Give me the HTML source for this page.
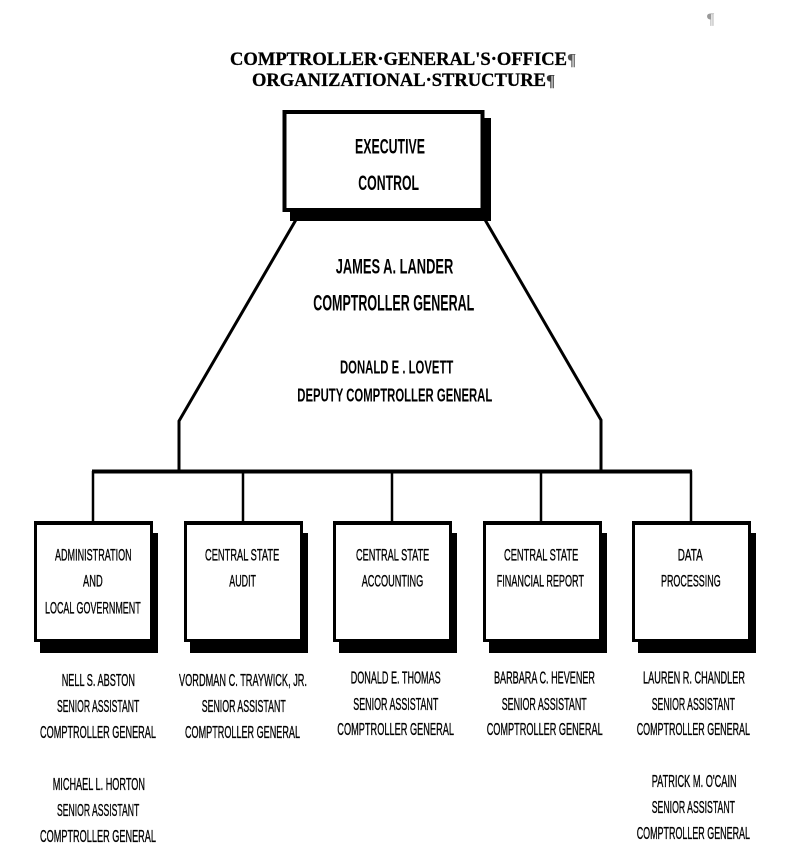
<!DOCTYPE html>
<html>
<head>
<meta charset="utf-8">
<style>
  html, body { margin: 0; padding: 0; background: #fff; }
  svg { display: block; }
  .t { font-family: "Liberation Sans", Arial, sans-serif; fill: #000; }
  .s { font-family: "Liberation Serif", "Times New Roman", serif; font-weight: bold; fill: #000; }
</style>
</head>
<body>
<svg width="796" height="859" viewBox="0 0 796 859" xmlns="http://www.w3.org/2000/svg">
  <rect x="0" y="0" width="796" height="859" fill="#fff"/>

  <!-- top pilcrow -->
  <text x="707" y="24" font-family="Liberation Serif, serif" font-size="16" fill="#999">¶</text>

  <!-- title -->
  <text class="s" x="230" y="65" font-size="18.5" stroke="#000" stroke-width="0.3" textLength="337" lengthAdjust="spacingAndGlyphs">COMPTROLLER·GENERAL'S·OFFICE</text>
  <text x="567" y="65" font-family="Liberation Serif, serif" font-size="17" fill="#555" font-weight="bold">¶</text>
  <text class="s" x="252" y="86" font-size="18.5" stroke="#000" stroke-width="0.3" textLength="294" lengthAdjust="spacingAndGlyphs">ORGANIZATIONAL·STRUCTURE</text>
  <text x="546" y="86" font-family="Liberation Serif, serif" font-size="17" fill="#333" font-weight="bold">¶</text>

  <!-- connectors -->
  <g stroke="#000" fill="none" stroke-linejoin="miter">
    <polyline points="297,218 179,421 179,472" stroke-width="3"/>
    <polyline points="484,218 601,420 601,472" stroke-width="3"/>
    <line x1="92" y1="471.5" x2="692" y2="471.5" stroke-width="4"/>
    <line x1="93" y1="471" x2="93" y2="522" stroke-width="2.5"/>
    <line x1="243" y1="471" x2="243" y2="522" stroke-width="2.5"/>
    <line x1="392" y1="471" x2="392" y2="522" stroke-width="2.5"/>
    <line x1="541" y1="471" x2="541" y2="522" stroke-width="2.5"/>
    <line x1="691" y1="471" x2="691" y2="522" stroke-width="2.5"/>
  </g>

  <!-- executive box -->
  <rect x="290" y="118" width="201" height="103" fill="#000"/>
  <rect x="284.5" y="112" width="198" height="98" fill="#fff" stroke="#000" stroke-width="4"/>
  <text class="t" x="355" y="153.3" font-size="21.5" font-weight="bold" textLength="70" lengthAdjust="spacingAndGlyphs">EXECUTIVE</text>
  <text class="t" x="358.3" y="190" font-size="21.5" font-weight="bold" textLength="60.7" lengthAdjust="spacingAndGlyphs">CONTROL</text>

  <!-- center text -->
  <text class="t" x="335.7" y="273.3" font-size="21.5" font-weight="bold" textLength="117.6" lengthAdjust="spacingAndGlyphs">JAMES A. LANDER</text>
  <text class="t" x="313.3" y="310.7" font-size="22" font-weight="bold" textLength="161" lengthAdjust="spacingAndGlyphs">COMPTROLLER GENERAL</text>
  <text class="t" x="340" y="373.3" font-size="18.5" font-weight="bold" textLength="113.3" lengthAdjust="spacingAndGlyphs">DONALD E . LOVETT</text>
  <text class="t" x="297.3" y="401.7" font-size="18.5" font-weight="bold" textLength="195" lengthAdjust="spacingAndGlyphs">DEPUTY COMPTROLLER GENERAL</text>

  <!-- department boxes: shadows -->
  <g fill="#000">
    <rect x="40" y="533" width="118" height="120"/>
    <rect x="190" y="533" width="118" height="120"/>
    <rect x="339" y="533" width="118" height="120"/>
    <rect x="489" y="533" width="118" height="120"/>
    <rect x="638" y="533" width="118" height="120"/>
  </g>
  <g fill="#fff" stroke="#000" stroke-width="3">
    <rect x="35.5" y="522.5" width="116" height="118"/>
    <rect x="185.5" y="522.5" width="116" height="118"/>
    <rect x="334.5" y="522.5" width="116" height="118"/>
    <rect x="484.5" y="522.5" width="116" height="118"/>
    <rect x="633.5" y="522.5" width="116" height="118"/>
  </g>
  <g fill="#000">
    <rect x="34" y="521" width="119" height="4"/>
    <rect x="184" y="521" width="119" height="4"/>
    <rect x="333" y="521" width="119" height="4"/>
    <rect x="483" y="521" width="119" height="4"/>
    <rect x="632" y="521" width="119" height="4"/>
  </g>

  <!-- box labels -->
  <g class="t" font-size="17" stroke="#000" stroke-width="0.35">
    <text x="55" y="560.7" textLength="76.7" lengthAdjust="spacingAndGlyphs">ADMINISTRATION</text>
    <text x="83" y="586.7" textLength="19.7" lengthAdjust="spacingAndGlyphs">AND</text>
    <text x="45" y="613.3" textLength="95.7" lengthAdjust="spacingAndGlyphs">LOCAL GOVERNMENT</text>

    <text x="205" y="560.7" textLength="74.3" lengthAdjust="spacingAndGlyphs">CENTRAL STATE</text>
    <text x="229.3" y="586.7" textLength="26.7" lengthAdjust="spacingAndGlyphs">AUDIT</text>

    <text x="356" y="560.7" textLength="73.3" lengthAdjust="spacingAndGlyphs">CENTRAL STATE</text>
    <text x="361.7" y="586.7" textLength="61.6" lengthAdjust="spacingAndGlyphs">ACCOUNTING</text>

    <text x="504" y="560.7" textLength="74.3" lengthAdjust="spacingAndGlyphs">CENTRAL STATE</text>
    <text x="496.7" y="586.7" textLength="87.3" lengthAdjust="spacingAndGlyphs">FINANCIAL REPORT</text>

    <text x="677.7" y="560.7" textLength="25" lengthAdjust="spacingAndGlyphs">DATA</text>
    <text x="661" y="586.7" textLength="59.7" lengthAdjust="spacingAndGlyphs">PROCESSING</text>
  </g>

  <!-- names -->
  <g class="t" font-size="17.5" stroke="#000" stroke-width="0.35">
    <text x="61.7" y="686" textLength="73.3" lengthAdjust="spacingAndGlyphs">NELL S. ABSTON</text>
    <text x="57" y="712" textLength="82.3" lengthAdjust="spacingAndGlyphs">SENIOR ASSISTANT</text>
    <text x="40" y="738" textLength="116" lengthAdjust="spacingAndGlyphs">COMPTROLLER GENERAL</text>
    <text x="52.7" y="790" textLength="92.3" lengthAdjust="spacingAndGlyphs">MICHAEL L. HORTON</text>
    <text x="57" y="816" textLength="82.3" lengthAdjust="spacingAndGlyphs">SENIOR ASSISTANT</text>
    <text x="40" y="842" textLength="116" lengthAdjust="spacingAndGlyphs">COMPTROLLER GENERAL</text>

    <text x="179" y="686" textLength="128" lengthAdjust="spacingAndGlyphs">VORDMAN C. TRAYWICK, JR.</text>
    <text x="201.7" y="712" textLength="84" lengthAdjust="spacingAndGlyphs">SENIOR ASSISTANT</text>
    <text x="185" y="738" textLength="115" lengthAdjust="spacingAndGlyphs">COMPTROLLER GENERAL</text>

    <text x="350.7" y="683.3" textLength="90" lengthAdjust="spacingAndGlyphs">DONALD E. THOMAS</text>
    <text x="353.3" y="710" textLength="85" lengthAdjust="spacingAndGlyphs">SENIOR ASSISTANT</text>
    <text x="337.3" y="735" textLength="116.7" lengthAdjust="spacingAndGlyphs">COMPTROLLER GENERAL</text>

    <text x="494" y="683.3" textLength="101" lengthAdjust="spacingAndGlyphs">BARBARA C. HEVENER</text>
    <text x="501.7" y="710" textLength="85" lengthAdjust="spacingAndGlyphs">SENIOR ASSISTANT</text>
    <text x="486.7" y="735" textLength="116" lengthAdjust="spacingAndGlyphs">COMPTROLLER GENERAL</text>

    <text x="643" y="683.3" textLength="102" lengthAdjust="spacingAndGlyphs">LAUREN R. CHANDLER</text>
    <text x="651.7" y="710" textLength="83.3" lengthAdjust="spacingAndGlyphs">SENIOR ASSISTANT</text>
    <text x="636.7" y="735" textLength="113.3" lengthAdjust="spacingAndGlyphs">COMPTROLLER GENERAL</text>
    <text x="651.7" y="787" textLength="85" lengthAdjust="spacingAndGlyphs">PATRICK M. O'CAIN</text>
    <text x="651.7" y="813" textLength="83.3" lengthAdjust="spacingAndGlyphs">SENIOR ASSISTANT</text>
    <text x="636.7" y="839" textLength="113.3" lengthAdjust="spacingAndGlyphs">COMPTROLLER GENERAL</text>
  </g>
</svg>
</body>
</html>
